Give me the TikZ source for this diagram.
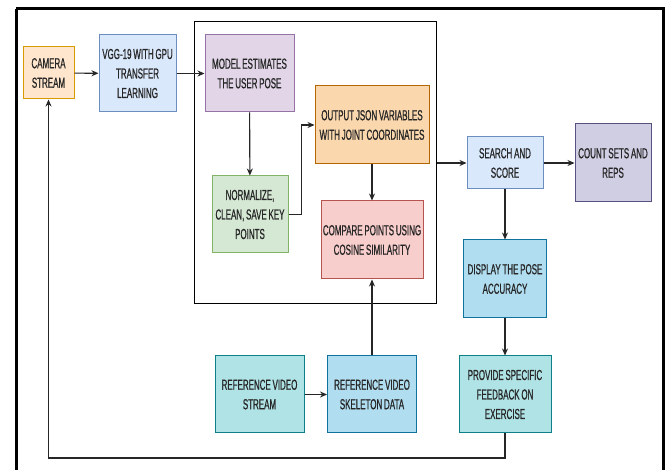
\documentclass[tikz,border=0pt]{standalone}
\usepackage{fontspec}
\newfontfamily\dfont[FakeStretch=0.55,FakeBold=0.7,WordSpace=0.8]{Liberation Sans}
\usetikzlibrary{arrows.meta,positioning}
\definecolor{camf}{HTML}{FFE6CC}\definecolor{camd}{HTML}{D79B00}
\definecolor{bluf}{HTML}{DAE8FC}\definecolor{blud}{HTML}{6C8EBF}
\definecolor{purf}{HTML}{E1D5E7}\definecolor{purd}{HTML}{9673A6}
\definecolor{grnf}{HTML}{D5E8D4}\definecolor{grnd}{HTML}{82B366}
\definecolor{orgf}{HTML}{FAD7AC}\definecolor{orgd}{HTML}{B46504}
\definecolor{redf}{HTML}{F8CECC}\definecolor{redd}{HTML}{B85450}
\definecolor{cntf}{HTML}{D0CEE2}\definecolor{cntd}{HTML}{56517E}
\definecolor{skyf}{HTML}{B1DDF0}\definecolor{skyd}{HTML}{10739E}
\definecolor{tlf}{HTML}{B0E3E6}\definecolor{tld}{HTML}{0E8088}
\tikzset{
  box/.style={draw, line width=1pt, align=center, inner sep=0pt,
    font=\dfont\fontsize{14.5}{19.5}\selectfont, text=black!85},
  arr/.style={-{Stealth[length=7pt,width=6pt]}, line width=1.1pt, black!85},
}
\begin{document}
\begin{tikzpicture}[x=1pt,y=-1pt]
\useasboundingbox (0,0) rectangle (670,470);
\fill[white] (0,0) rectangle (670,470);
% outer frame
\draw[line width=3pt, black] (16,9) -- (663,9) -- (663,480);
\draw[line width=3pt, black] (16,480) -- (16,9);
% inner frame
\node[draw, line width=1pt, minimum width=242pt, minimum height=282pt, inner sep=0pt] (inner) at (315,163) {};
% boxes
\node[box, fill=camf, draw=camd, minimum width=51pt, minimum height=52pt] (cam) at (48.5,73) {CAMERA\\STREAM};
\node[box, fill=bluf, draw=blud, minimum width=77pt, minimum height=77pt] (vgg) at (137.5,73.5) {VGG-19 WITH GPU\\TRANSFER\\LEARNING};
\node[box, fill=purf, draw=purd, minimum width=89pt, minimum height=77pt] (model) at (249.5,73.5) {MODEL ESTIMATES\\THE USER POSE};
\node[box, fill=grnf, draw=grnd, minimum width=76pt, minimum height=77pt] (norm) at (250,214.5) {NORMALIZE,\\CLEAN, SAVE KEY\\POINTS};
\node[box, fill=orgf, draw=orgd, minimum width=114pt, minimum height=78pt] (json) at (372,125) {OUTPUT JSON VARIABLES\\WITH JOINT COORDINATES};
\node[box, fill=redf, draw=redd, minimum width=102pt, minimum height=78pt] (comp) at (372,240) {COMPARE POINTS USING\\COSINE SIMILARITY};
\node[box, fill=bluf, draw=blud, minimum width=76pt, minimum height=52pt] (search) at (505,163) {SEARCH AND\\SCORE};
\node[box, fill=cntf, draw=cntd, minimum width=76pt, minimum height=78pt] (count) at (613,163) {COUNT SETS AND\\REPS};
\node[box, fill=skyf, draw=skyd, minimum width=83pt, minimum height=78pt] (disp) at (505,279) {DISPLAY THE POSE\\ACCURACY};
\node[box, fill=tlf, draw=tld, minimum width=89pt, minimum height=77pt] (refs) at (259.5,394.5) {REFERENCE VIDEO\\STREAM};
\node[box, fill=skyf, draw=skyd, minimum width=89pt, minimum height=77pt] (refk) at (372,394.5) {REFERENCE VIDEO\\SKELETON DATA};
\node[box, fill=tlf, draw=tld, minimum width=92pt, minimum height=77pt] (feed) at (505,394.5) {PROVIDE SPECIFIC\\FEEDBACK ON\\EXERCISE};
\coordinate (loopR) at (505,458);
\coordinate (loopL) at (48.5,458);
% connectors
\draw[arr] (cam) -- (vgg);
\draw[arr] (vgg) -- (model);
\draw[arr] (model) -- (norm);
\draw[arr] (norm.east) -- ++(13,0) |- (json.west);
\draw[arr] (json) -- (comp);
\draw[arr] (refk) -- (comp);
\draw[arr] (refs) -- (refk);
\draw[arr] (inner.east |- search.west) -- (search.west);
\draw[arr] (search) -- (count);
\draw[arr] (search) -- (disp);
\draw[arr] (disp) -- (feed);
\draw[arr] (feed.south) -- (loopR) -- (loopL) -- (cam.south);
\end{tikzpicture}
\end{document}
